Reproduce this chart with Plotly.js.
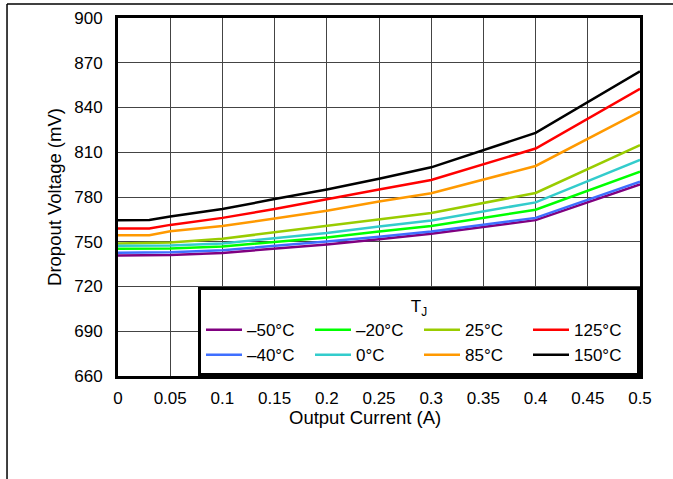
<!DOCTYPE html>
<html>
<head>
<meta charset="utf-8">
<script src="https://cdn.plot.ly/plotly-3.0.1.min.js"></script>
<style>html,body{margin:0;padding:0;background:#fff;}#chart{width:673px;height:479px;}</style>
</head>
<body>
<div id="chart"></div>
<script>
// Output current (A)
const current = [0, 0.03, 0.05, 0.1, 0.15, 0.2, 0.25, 0.3, 0.4, 0.5];
// Dropout voltage (mV) per junction temperature
const tM50 = [740.7, 740.8, 741.2, 742.5, 745.3, 748.2, 751.6, 755.4, 764.5, 788.5];
const tM40 = [742.6, 742.7, 743.0, 744.3, 747.0, 750.2, 753.3, 756.9, 766.0, 790.3];
const tM20 = [745.3, 745.3, 745.4, 746.8, 749.8, 752.9, 756.8, 760.5, 771.5, 797.0];
const t0   = [747.3, 747.3, 747.5, 748.9, 752.5, 755.9, 760.3, 764.3, 776.4, 804.9];
const t25  = [748.9, 749.0, 749.5, 752.0, 756.3, 760.2, 765.0, 769.3, 782.7, 814.7];
const t85  = [754.3, 754.4, 757.0, 760.6, 765.6, 770.8, 777.0, 782.5, 800.8, 837.3];
const t125 = [758.8, 758.9, 761.3, 766.0, 771.9, 778.2, 785.0, 791.4, 812.5, 852.5];
const t150 = [764.4, 764.6, 766.9, 771.9, 778.6, 785.0, 792.2, 799.9, 823.0, 864.2];

const seriesNames = ['\u201350°C', '\u201320°C', '25°C', '125°C', '\u201340°C', '0°C', '85°C', '150°C'];
const seriesData = [tM50, tM20, t25, t125, tM40, t0, t85, t150];
const seriesColors = ['#800080', '#00FF00', '#99CC00', '#FF0000', '#3F6FFF', '#33CCCC', '#FF9900', '#000000'];

const xTickVals = [0, 0.05, 0.1, 0.15, 0.2, 0.25, 0.3, 0.35, 0.4, 0.45, 0.5];
const xTickText = ['0', '0.05', '0.1', '0.15', '0.2', '0.25', '0.3', '0.35', '0.4', '0.45', '0.5'];
const yTickVals = [660, 690, 720, 750, 780, 810, 840, 870, 900];

const FONT = 'Liberation Sans, Arial, sans-serif';

const traces = seriesData.map((d, i) => ({
  x: current, y: d, type: 'scatter', mode: 'lines', name: seriesNames[i],
  line: {color: seriesColors[i], width: 2.5}
}));

const layout = {
  width: 673, height: 479,
  margin: {l: 118, r: 33, t: 18, b: 103},
  paper_bgcolor: '#fff', plot_bgcolor: '#fff',
  font: {family: FONT, color: '#000', size: 17},
  showlegend: true,
  xaxis: {
    range: [0, 0.5], tickvals: xTickVals, ticktext: xTickText,
    showgrid: true, gridcolor: '#444', gridwidth: 1,
    showline: true, linecolor: '#000', linewidth: 3, mirror: true,
    ticks: '', zeroline: false, ticklabelstandoff: 5,
    tickfont: {size: 17, family: FONT, color: '#000'}
  },
  yaxis: {
    range: [660, 900], tickvals: yTickVals,
    showgrid: true, gridcolor: '#444', gridwidth: 1,
    showline: true, linecolor: '#000', linewidth: 3, mirror: true,
    ticks: '', zeroline: false, ticklabelstandoff: 9,
    tickfont: {size: 17, family: FONT, color: '#000'},
    title: {text: 'Dropout Voltage (mV)', font: {size: 18.5, family: FONT, color: '#000'}, standoff: 8}
  },
  annotations: [
    {text: 'Output Current (A)', xref: 'paper', yref: 'paper', x: 0.473, y: -0.117,
     xanchor: 'center', yanchor: 'middle', showarrow: false,
     font: {size: 18.5, family: FONT, color: '#000'}}
  ],
  legend: {
    orientation: 'h', x: 1, xanchor: 'right', y: 0, yanchor: 'bottom',
    bgcolor: '#fff', bordercolor: '#000', borderwidth: 3,
    entrywidth: 58, entrywidthmode: 'pixels', itemwidth: 36,
    font: {size: 17, family: FONT, color: '#000'},
    title: {text: 'T<sub>J</sub>', side: 'top center', font: {size: 17, family: FONT, color: '#000'}},
    traceorder: 'normal'
  },
  shapes: [
    {type: 'line', xref: 'paper', yref: 'paper', x0: -0.2126, x1: 1.07, y0: 1.0391, y1: 1.0391, line: {color: '#000', width: 1.5}},
    {type: 'line', xref: 'paper', yref: 'paper', x0: -0.2126, x1: -0.2126, y0: 1.0391, y1: -0.30, line: {color: '#000', width: 1.5}}
  ]
};

Plotly.newPlot('chart', traces, layout, {displayModeBar: false, staticPlot: true});
</script>
</body>
</html>
